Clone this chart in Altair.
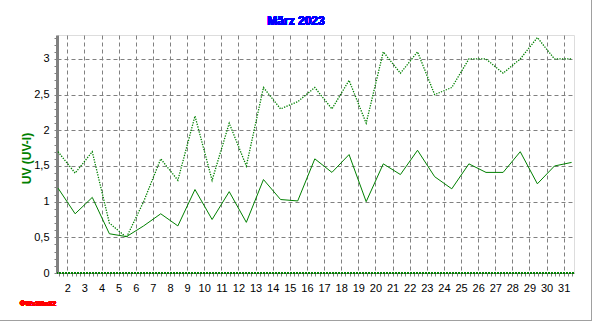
import altair as alt
import pandas as pd
import numpy as np

# ---- data ----
days = list(range(1, 32))
uv_avg = [1.19, 0.83, 1.06, 0.55, 0.51, 0.66, 0.83, 0.66, 1.17, 0.75, 1.14, 0.71, 1.31, 1.03, 1.01,
          1.60, 1.41, 1.66, 1.00, 1.53, 1.38, 1.72, 1.35, 1.18, 1.53, 1.41, 1.41, 1.70, 1.25, 1.50, 1.55]
uv_max = [1.7, 1.4, 1.7, 0.7, 0.5, 1.0, 1.6, 1.3, 2.2, 1.3, 2.1, 1.5, 2.6, 2.3, 2.4,
          2.6, 2.3, 2.7, 2.1, 3.1, 2.8, 3.1, 2.5, 2.6, 3.0, 3.0, 2.8, 3.0, 3.3, 3.0, 3.0]
x_tick_labels = list(range(2, 32))
y_tick_values = [0, 0.5, 1, 1.5, 2, 2.5, 3]
title_text = "März 2023"
y_title = "UV (UV-I)"
credit = "©WsWin32"

df = pd.DataFrame({"day": days, "avg": uv_avg, "max": uv_max})

GREEN = "#008000"
GRID = "#808080"
FONT = "Liberation Sans"

x_scale = alt.Scale(domain=[1.4, 31.6], nice=False, zero=False)
y_scale = alt.Scale(domain=[0, 3.336], nice=False, zero=False)

base = alt.Chart(df).transform_calculate(t="datum.day + 0.46")

main_x_axis = alt.Axis(orient="bottom", values=x_tick_labels, labelExpr="toString(datum.value)",
                       grid=True, gridColor=GRID, gridDash=[4, 3], gridWidth=1, ticks=False,
                       domain=True, domainColor=GRID, domainWidth=1, labelPadding=9,
                       labelFont=FONT, labelFontSize=11, labelColor="black", title=None)
main_y_axis = alt.Axis(orient="left", values=y_tick_values,
                       labelExpr="replace(toString(datum.value), '.', ',')",
                       grid=True, gridColor=GRID, gridDash=[4, 3], gridWidth=1, ticks=False,
                       domain=True, domainColor=GRID, domainWidth=3, labelPadding=8,
                       labelFont=FONT, labelFontSize=11, labelColor="black",
                       title=y_title, titleColor=GREEN, titleFont=FONT, titleFontSize=12,
                       titleFontWeight="bold", titleX=-31, titleY=123, titleAlign="center",
                       titleBaseline="middle")

avg_line = base.mark_line(color=GREEN, strokeWidth=1).encode(
    x=alt.X("t:Q", scale=x_scale, axis=main_x_axis),
    y=alt.Y("avg:Q", scale=y_scale, axis=main_y_axis),
)

max_line = base.mark_line(color=GREEN, strokeWidth=1.3, strokeDash=[1.3, 1.3]).encode(
    x=alt.X("t:Q", scale=x_scale, axis=None),
    y=alt.Y("max:Q", scale=y_scale, axis=None),
)

minor_x = [round(v, 2) for v in np.arange(1.5, 31.6, 0.25)]
minor_y = [round(v, 2) for v in np.arange(0, 3.31, 0.1)]
minor = base.mark_line(opacity=0).encode(
    x=alt.X("t:Q", scale=x_scale,
            axis=alt.Axis(orient="bottom", values=minor_x, labels=False, grid=False, domain=False,
                          tickSize=3, tickColor=GRID, title=None)),
    y=alt.Y("avg:Q", scale=y_scale,
            axis=alt.Axis(orient="left", values=minor_y, labels=False, grid=False, domain=False,
                          tickSize=3, tickColor=GRID, title=None)),
)

zero_line = alt.Chart(df).mark_rule(color=GREEN, strokeWidth=1, strokeDash=[2, 1]).encode(
    y=alt.YDatum(0, scale=y_scale, axis=None)
)

frame_right = alt.Chart(df).mark_rule(color="#a0a0a0", strokeWidth=1).encode(
    x=alt.value(534.5), y=alt.value(-35), y2=alt.value(286)
)
frame_bottom = alt.Chart(df).mark_rule(color="#a0a0a0", strokeWidth=1).encode(
    x=alt.value(-57), x2=alt.value(535), y=alt.value(285.5)
)

title_mark = alt.Chart(df).mark_text(
    text=title_text, color="#0000FF", font=FONT, fontSize=12, fontWeight="bold",
    align="center", baseline="middle"
).encode(x=alt.value(239), y=alt.value(-14))

credit_text = alt.Chart(df).mark_text(
    text=credit, color="red", font=FONT, fontSize=7, fontWeight="bold",
    align="left", baseline="middle"
).encode(x=alt.value(-37), y=alt.value(269))

chart = alt.layer(
    minor, avg_line, max_line, zero_line, frame_right, frame_bottom, title_mark, credit_text
).resolve_axis(x="independent", y="independent").properties(
    width=517, height=238,
    autosize=alt.AutoSizeParams(type="none"),
    padding={"left": 57, "top": 35, "right": 18, "bottom": 48},
).configure_view(stroke="black", strokeWidth=1).configure(background="white")

chart.save("out.html", embed_options={"renderer": "svg", "actions": False})
